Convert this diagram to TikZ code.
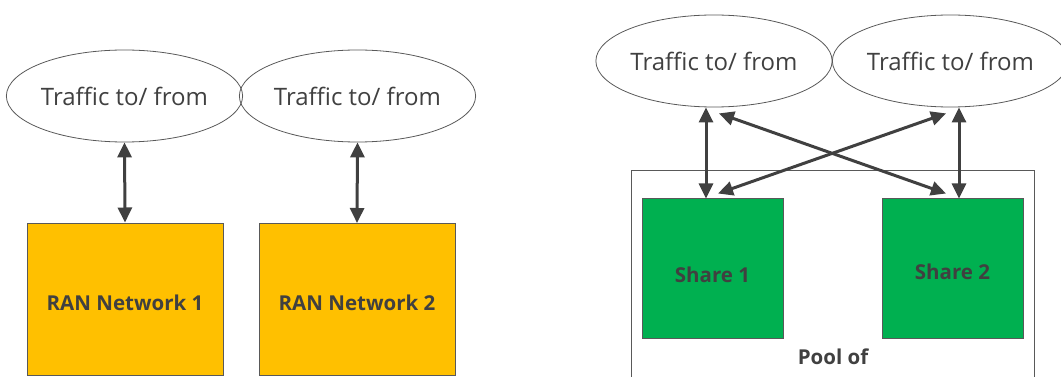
\documentclass[tikz,border=0pt]{standalone}
\usepackage{fontspec}
\setmainfont{Open Sans}
\usetikzlibrary{shapes.geometric,arrows.meta}
\definecolor{txt}{HTML}{404040}
\definecolor{edge}{HTML}{595959}
\definecolor{ranfill}{HTML}{FFC000}
\definecolor{sharefill}{HTML}{00B050}
\tikzset{
  traffic/.style={draw=edge,line width=0.8pt,ellipse,minimum width=231pt,minimum height=92pt,inner sep=0pt,text=txt,font=\fontsize{24}{28}\selectfont},
  ranbox/.style={draw=edge,line width=1pt,fill=ranfill,minimum width=196pt,minimum height=152pt,inner sep=0pt,text=txt,font=\bfseries\fontsize{20.5}{24}\selectfont},
  sharebox/.style={draw=edge,line width=1pt,fill=sharefill,minimum width=141pt,minimum height=139pt,inner sep=0pt,text=txt,font=\bfseries\fontsize{20.5}{24}\selectfont},
  biarrow/.style={draw=txt,line width=3pt,{Triangle[length=15pt,width=14pt]}-{Triangle[length=15pt,width=14pt]}},
}
\begin{document}
\begin{tikzpicture}[x=1pt,y=-1pt]
\useasboundingbox (0,0) rectangle (1061,377);
% left
\node[traffic] (e1) at (124.5,96) {Traffic to/ from};
\node[traffic] (e2) at (357.5,96) {Traffic to/ from};
\node[ranbox] (b1) at (125,299) {\raisebox{-3.5pt}[\height][\depth]{RAN Network 1}};
\node[ranbox] (b2) at (357,299.5) {\raisebox{-3.5pt}[\height][\depth]{RAN Network 2}};
\draw[biarrow] (e1.south) -- (b1.north);
\draw[biarrow] (e2.south) -- (b2.north);
% right
\node[traffic] (e3) at (714,61) {Traffic to/ from};
\node[traffic] (e4) at (950.5,61) {Traffic to/ from};
\node[draw=edge,line width=0.8pt,minimum width=403pt,minimum height=230pt,inner sep=0pt,anchor=north west] (pool) at (631,170) {};
\node[text=txt,font=\bfseries\fontsize{20.5}{24}\selectfont] (pooltext) at (833,357) {Pool of};
\node[sharebox] (s1) at (712.5,268.5) {\raisebox{-6pt}[\height][\depth]{Share 1}};
\node[sharebox] (s2) at (952.5,268.5) {\raisebox{-3.5pt}[\height][\depth]{Share 2}};
\draw[biarrow] ([xshift=-8pt]e3.south) -- ([xshift=-6.5pt]s1.north);
\draw[biarrow] ([xshift=8.5pt]e4.south) -- ([xshift=6.5pt]s2.north);
\draw[biarrow] ([shift={(5,6)}]e3.south) -- ([shift={(-6.5,-5)}]s2.north);
\draw[biarrow] ([shift={(-4.5,6)}]e4.south) -- ([shift={(5.5,-5)}]s1.north);
\end{tikzpicture}
\end{document}
